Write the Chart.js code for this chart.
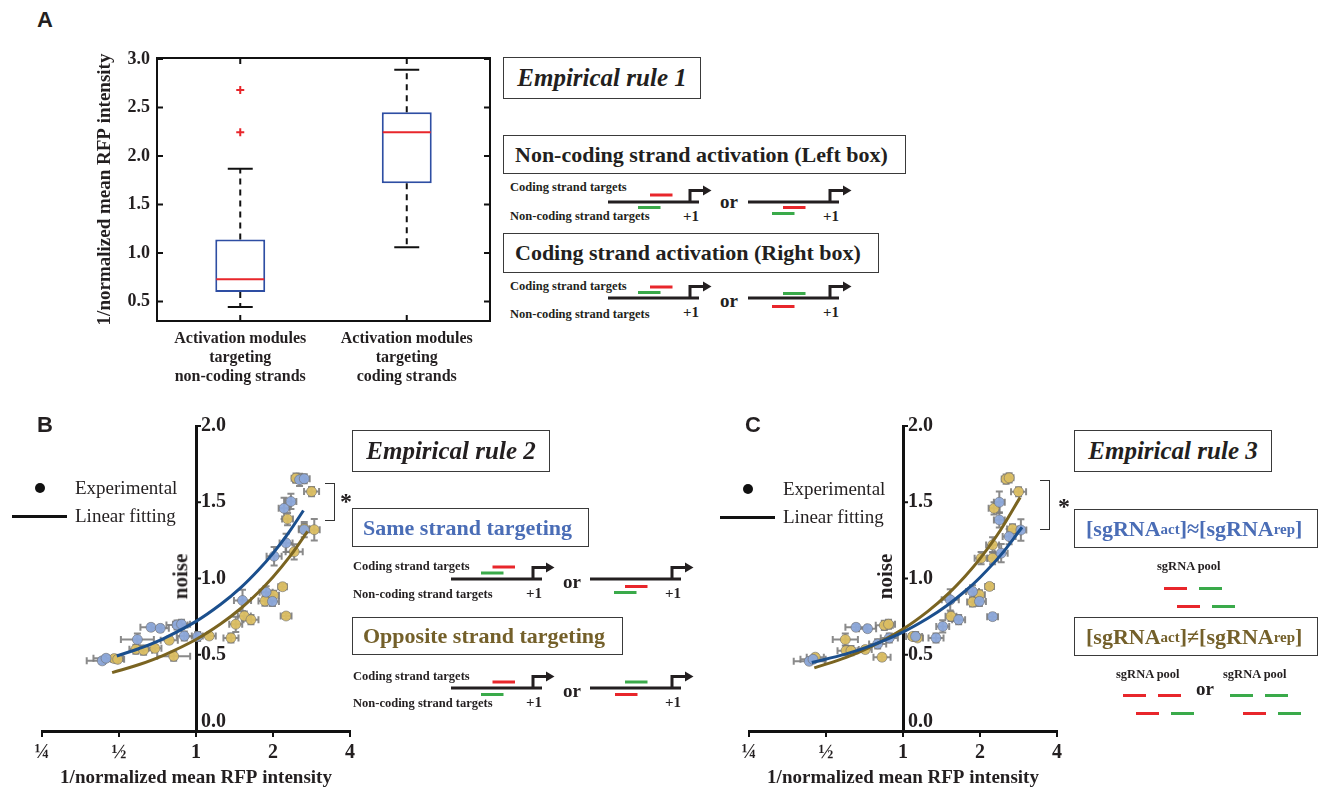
<!DOCTYPE html>
<html>
<head>
<meta charset="utf-8">
<script src="https://cdn.jsdelivr.net/npm/chart.js@4.4.0/dist/chart.umd.min.js"></script>
<style>
  body { margin:0; width:1318px; height:789px; position:relative; overflow:hidden; background:#fff;
         font-family:"Liberation Serif","Times New Roman",serif; color:#231f20; }
  canvas { position:absolute; }
  .bx { position:absolute; border:1.5px solid #3a3a3a; box-sizing:border-box; display:flex; align-items:center;
        white-space:nowrap; font-weight:bold; }
  .t { position:absolute; white-space:nowrap; font-weight:bold; line-height:1; }
  .pl { position:absolute; font:bold 22px "Liberation Sans",Arial,sans-serif; }
  sub { font-size:15px; vertical-align:-6px; line-height:0; }
</style>
</head>
<body>
<canvas id="chartA" width="410" height="400" style="left:90px;top:0px"></canvas>
<canvas id="chartB" width="360" height="379" style="left:0px;top:410px"></canvas>
<canvas id="chartC" width="360" height="379" style="left:707px;top:410px"></canvas>

<script>
// ---- panel A : box plot ----
const aLabels = [['Activation modules', 'targeting', 'non-coding strands'],
                 ['Activation modules', 'targeting', 'coding strands']];
const aQ1   = [0.60, 1.72];
const aQ3   = [1.14, 2.45];
const aMed  = [0.73, 2.245];
const aLow  = [0.445, 1.06];
const aHigh = [1.87, 2.89];
const aOutX = [0, 0];
const aOutY = [2.68, 2.245];
const aTicks = [0.5, 1.0, 1.5, 2.0, 2.5, 3.0];

// ---- panels B and C : noise vs 1/normalized mean RFP ----
const xTicksLog = [0.25, 0.5, 1, 2, 4];
const xTickText = ['¼', '½', '1', '2', '4'];
const yTicksNoise = [0, 0.5, 1.0, 1.5, 2.0];

// B, same strand (blue)
const bBlueX  = [0.43, 0.445, 0.59, 0.667, 0.725, 0.843, 0.878, 0.90, 1.015, 1.52, 1.88, 1.99, 2.02, 2.25, 2.21, 2.35, 2.54, 2.65, 2.65];
const bBlueY  = [0.46, 0.477, 0.60, 0.68, 0.673, 0.695, 0.70, 0.623, 0.62, 0.856, 0.91, 0.85, 1.146, 1.233, 1.46, 1.505, 1.647, 1.654, 1.32];
const bBlueXe = [1.15, 1.12, 1.16, 1.10, 1.08, 1.10, 1.08, 1.07, 1.10, 1.08, 1.06, 1.06, 1.07, 1.06, 1.05, 1.05, 1.06, 1.05, 1.05];
const bBlueYe = [0.02, 0.02, 0.04, 0.02, 0.02, 0.03, 0.03, 0.03, 0.03, 0.07, 0.04, 0.03, 0.06, 0.06, 0.07, 0.05, 0.04, 0.03, 0.05];
// B, opposite strand (gold)
const bGoldX  = [0.479, 0.494, 0.582, 0.624, 0.691, 0.786, 0.818, 1.127, 1.37, 1.43, 1.545, 1.64, 1.86, 2.01, 2.18, 2.25, 2.42, 2.28, 2.46, 2.83, 2.65, 2.90];
const bGoldY  = [0.475, 0.47, 0.536, 0.53, 0.542, 0.595, 0.49, 0.623, 0.61, 0.70, 0.754, 0.73, 0.852, 0.89, 0.946, 0.754, 1.175, 1.39, 1.658, 1.57, 1.327, 1.32];
const bGoldXe = [1.08, 1.06, 1.06, 1.08, 1.06, 1.08, 1.16, 1.06, 1.07, 1.06, 1.06, 1.07, 1.06, 1.05, 1.04, 1.05, 1.08, 1.05, 1.04, 1.07, 1.05, 1.05];
const bGoldYe = [0.02, 0.02, 0.03, 0.03, 0.02, 0.02, 0.03, 0.02, 0.03, 0.05, 0.03, 0.03, 0.03, 0.03, 0.02, 0.02, 0.05, 0.04, 0.03, 0.03, 0.03, 0.07];
// B, fitted curves
const bFitBlueX = [0.49, 0.6, 0.75, 1, 1.25, 1.5, 1.75, 2, 2.3, 2.63];
const bFitBlueY = [0.492, 0.541, 0.608, 0.719, 0.831, 0.942, 1.054, 1.165, 1.299, 1.446];
const bFitGoldX = [0.47, 0.6, 0.75, 1, 1.25, 1.5, 1.75, 2, 2.3, 2.73];
const bFitGoldY = [0.383, 0.436, 0.498, 0.60, 0.703, 0.805, 0.908, 1.01, 1.133, 1.309];

// C, equal sgRNA amounts (blue)
const cBlueX  = [0.43, 0.445, 0.655, 0.727, 0.796, 0.884, 1.12, 1.346, 1.43, 1.53, 1.65, 1.87, 1.99, 2.24, 2.42, 2.38, 2.38, 2.60, 2.89];
const cBlueY  = [0.457, 0.47, 0.68, 0.671, 0.571, 0.61, 0.62, 0.61, 0.686, 0.86, 0.73, 0.915, 0.85, 0.75, 1.166, 1.384, 1.50, 1.275, 1.318];
const cBlueXe = [1.15, 1.12, 1.10, 1.08, 1.08, 1.08, 1.06, 1.07, 1.06, 1.08, 1.06, 1.06, 1.06, 1.05, 1.06, 1.05, 1.05, 1.06, 1.05];
const cBlueYe = [0.02, 0.02, 0.02, 0.02, 0.03, 0.03, 0.03, 0.03, 0.04, 0.07, 0.03, 0.04, 0.03, 0.02, 0.06, 0.05, 0.07, 0.05, 0.07];
// C, unequal sgRNA amounts (gold)
const cGoldX  = [0.454, 0.595, 0.599, 0.626, 0.712, 0.828, 0.845, 0.878, 1.09, 1.14, 1.54, 1.87, 1.99, 2.18, 2.02, 2.24, 2.24, 2.27, 2.53, 2.60, 2.83, 2.68];
const cGoldY  = [0.484, 0.60, 0.527, 0.527, 0.534, 0.484, 0.693, 0.70, 0.62, 0.61, 0.752, 0.846, 0.893, 0.948, 1.133, 1.133, 1.22, 1.46, 1.652, 1.66, 1.569, 1.325];
const cGoldXe = [1.08, 1.12, 1.08, 1.06, 1.06, 1.08, 1.08, 1.06, 1.06, 1.05, 1.05, 1.05, 1.05, 1.04, 1.06, 1.05, 1.06, 1.05, 1.04, 1.04, 1.07, 1.05];
const cGoldYe = [0.02, 0.04, 0.03, 0.03, 0.02, 0.02, 0.03, 0.03, 0.02, 0.02, 0.03, 0.03, 0.03, 0.02, 0.04, 0.04, 0.05, 0.04, 0.03, 0.03, 0.03, 0.03];
// C, fitted curves
const cFitBlueX = [0.44, 0.6, 0.75, 1, 1.25, 1.5, 1.75, 2, 2.4, 2.92];
const cFitBlueY = [0.449, 0.506, 0.56, 0.649, 0.739, 0.828, 0.918, 1.007, 1.15, 1.336];
const cFitGoldX = [0.45, 0.6, 0.75, 1, 1.25, 1.5, 1.75, 2, 2.4, 2.87];
const cFitGoldY = [0.414, 0.483, 0.553, 0.668, 0.784, 0.899, 1.015, 1.13, 1.315, 1.532];

const F = '"Liberation Serif", "Times New Roman", serif';
const INK = '#231f20';
Chart.defaults.font.family = F;
Chart.defaults.color = INK;

// whiskers, medians, frame and inward ticks for the box plot
const boxPlugin = {
  id: 'boxes',
  afterDatasetsDraw(chart) {
    const {ctx, scales: {x, y}} = chart;
    const meta = chart.getDatasetMeta(0);
    ctx.save();
    aMed.forEach((m, i) => {
      const cx = meta.data[i].x;
      const hw = meta.data[i].width / 2;
      ctx.strokeStyle = '#111';
      ctx.lineWidth = 2;
      ctx.setLineDash([6, 5]);
      ctx.beginPath();
      ctx.moveTo(cx, y.getPixelForValue(aQ3[i])); ctx.lineTo(cx, y.getPixelForValue(aHigh[i]));
      ctx.moveTo(cx, y.getPixelForValue(aQ1[i])); ctx.lineTo(cx, y.getPixelForValue(aLow[i]));
      ctx.stroke();
      ctx.setLineDash([]);
      ctx.beginPath();
      ctx.moveTo(cx - hw / 2, y.getPixelForValue(aHigh[i])); ctx.lineTo(cx + hw / 2, y.getPixelForValue(aHigh[i]));
      ctx.moveTo(cx - hw / 2, y.getPixelForValue(aLow[i])); ctx.lineTo(cx + hw / 2, y.getPixelForValue(aLow[i]));
      ctx.stroke();
      ctx.strokeStyle = '#e8262b';
      ctx.beginPath();
      ctx.moveTo(cx - hw + 1, y.getPixelForValue(m)); ctx.lineTo(cx + hw - 1, y.getPixelForValue(m));
      ctx.stroke();
    });
    ctx.restore();
  },
  afterDraw(chart) {
    const {ctx, chartArea: a, scales: {x, y}} = chart;
    ctx.save();
    ctx.strokeStyle = '#111';
    ctx.lineWidth = 2;
    ctx.strokeRect(a.left, a.top, a.right - a.left, a.bottom - a.top);
    ctx.beginPath();
    y.ticks.forEach(t => {
      const py = y.getPixelForValue(t.value);
      ctx.moveTo(a.left, py); ctx.lineTo(a.left + 6, py);
      ctx.moveTo(a.right, py); ctx.lineTo(a.right - 6, py);
    });
    aLabels.forEach((l, i) => {
      const px = x.getPixelForValue(i);
      ctx.moveTo(px, a.top); ctx.lineTo(px, a.top + 6);
      ctx.moveTo(px, a.bottom); ctx.lineTo(px, a.bottom - 6);
    });
    ctx.stroke();
    ctx.restore();
  }
};

new Chart(document.getElementById('chartA'), {
  type: 'bar',
  data: {
    labels: aLabels,
    datasets: [{
      data: aQ1.map((q, i) => [q, aQ3[i]]),
      backgroundColor: '#fff',
      borderColor: '#2e4ea3',
      borderWidth: 2,
      borderSkipped: false,
      categoryPercentage: 1,
      barPercentage: 0.3
    }, {
      type: 'line',
      showLine: false,
      data: aOutX.map((v, i) => ({x: aLabels[v], y: aOutY[i]})),
      pointStyle: 'cross',
      pointRadius: 4,
      borderColor: '#e8262b',
      borderWidth: 2
    }]
  },
  options: {
    responsive: false,
    animation: false,
    layout: {padding: {top: 58, right: 10, left: 0, bottom: 0}},
    plugins: {legend: {display: false}, tooltip: {enabled: false}},
    scales: {
      x: {
        grid: {display: false, drawTicks: false},
        border: {display: false},
        ticks: {color: INK, font: {size: 16, weight: 'bold', lineHeight: 1.2}, padding: 8, maxRotation: 0},
        afterFit(s) { s.height = 79; }
      },
      y: {
        min: 0.3, max: 3.01,
        afterBuildTicks(s) { s.ticks = aTicks.map(v => ({value: v})); },
        grid: {display: false, drawTicks: false},
        border: {display: false},
        ticks: {color: INK, font: {size: 18, weight: 'bold'}, padding: 7, callback: v => v.toFixed(1)},
        title: {display: true, text: '1/normalized mean RFP intensity', color: INK,
                font: {size: 19, weight: 'bold'}, padding: {top: 4, bottom: 0}},
        afterFit(s) { s.width = 67; }
      }
    }
  },
  plugins: [boxPlugin]
});

// error bars drawn through the chart scales
const errPlugin = {
  id: 'errbars',
  beforeDatasetsDraw(chart) {
    const {ctx, scales: {x, y}} = chart;
    ctx.save();
    ctx.strokeStyle = 'rgba(125,125,125,0.9)';
    ctx.lineWidth = 2;
    chart.data.datasets.forEach(d => {
      if (!d.xErr) return;
      d.data.forEach((p, i) => {
        const px = x.getPixelForValue(p.x), py = y.getPixelForValue(p.y);
        const xl = x.getPixelForValue(p.x / d.xErr[i]), xr = x.getPixelForValue(p.x * d.xErr[i]);
        const yt = y.getPixelForValue(p.y + d.yErr[i]), yb = y.getPixelForValue(p.y - d.yErr[i]);
        ctx.beginPath();
        ctx.moveTo(xl, py); ctx.lineTo(xr, py);
        ctx.moveTo(xl, py - 3.5); ctx.lineTo(xl, py + 3.5);
        ctx.moveTo(xr, py - 3.5); ctx.lineTo(xr, py + 3.5);
        ctx.moveTo(px, yt); ctx.lineTo(px, yb);
        ctx.moveTo(px - 3.5, yt); ctx.lineTo(px + 3.5, yt);
        ctx.moveTo(px - 3.5, yb); ctx.lineTo(px + 3.5, yb);
        ctx.stroke();
      });
    });
    ctx.restore();
  }
};

// noise axis labels sit to the right of the axis line at x = 1
const noiseAxisPlugin = {
  id: 'noiseAxis',
  afterDraw(chart) {
    const {ctx, scales: {x, y}} = chart;
    const px = x.getPixelForValue(1);
    ctx.save();
    ctx.strokeStyle = '#111';
    ctx.lineWidth = 2;
    ctx.fillStyle = INK;
    ctx.font = 'bold 20px ' + F;
    ctx.textAlign = 'left';
    ctx.textBaseline = 'middle';
    yTicksNoise.forEach(v => {
      const py = y.getPixelForValue(v);
      ctx.beginPath(); ctx.moveTo(px, py); ctx.lineTo(px + 5, py); ctx.stroke();
      ctx.fillText(v.toFixed(1), px + 5, v === 0 ? py - 9 : py);
    });
    ctx.restore();
  }
};

function pts(xs, ys) { return xs.map((v, i) => ({x: v, y: ys[i]})); }

function noiseChart(id, blue, gold) {
  new Chart(document.getElementById(id), {
    type: 'scatter',
    data: {
      datasets: [
        {data: pts(blue.fx, blue.fy), showLine: true, borderColor: '#1b4f8d', borderWidth: 3, pointRadius: 0, tension: 0.4, order: 0},
        {data: pts(gold.fx, gold.fy), showLine: true, borderColor: '#7a6421', borderWidth: 3, pointRadius: 0, tension: 0.4, order: 0},
        {data: pts(blue.x, blue.y), xErr: blue.xe, yErr: blue.ye, pointRadius: 5,
         backgroundColor: 'rgba(140,168,218,0.95)', borderColor: 'rgba(110,110,110,0.6)', borderWidth: 1, order: 1},
        {data: pts(gold.x, gold.y), xErr: gold.xe, yErr: gold.ye, pointRadius: 5,
         backgroundColor: 'rgba(219,190,98,0.95)', borderColor: 'rgba(110,110,110,0.6)', borderWidth: 1, order: 1}
      ]
    },
    options: {
      responsive: false,
      animation: false,
      layout: {padding: {top: 16, right: 10, left: 42, bottom: 0}},
      plugins: {legend: {display: false}, tooltip: {enabled: false}},
      scales: {
        x: {
          type: 'logarithmic', min: 0.25, max: 4,
          afterBuildTicks(s) { s.ticks = xTicksLog.map(v => ({value: v})); },
          grid: {drawOnChartArea: false, drawTicks: true, tickLength: 6, color: '#111', lineWidth: 2},
          border: {display: true, color: '#111', width: 3},
          ticks: {color: INK, font: {size: 20, weight: 'bold'}, padding: 4, maxRotation: 0,
                  callback: (v, i) => xTickText[i]},
          title: {display: true, text: '1/normalized mean RFP intensity', color: INK,
                  font: {size: 19, weight: 'bold'}, padding: {top: 0, bottom: 0}},
          afterFit(s) { s.height = 58; }
        },
        y: {
          position: {x: 1},
          min: 0, max: 2,
          afterBuildTicks(s) { s.ticks = yTicksNoise.map(v => ({value: v})); },
          grid: {drawOnChartArea: false, drawTicks: false},
          border: {display: true, color: '#111', width: 3},
          ticks: {display: false},
          afterFit(s) { s.width = 0; }
        }
      }
    },
    plugins: [errPlugin, noiseAxisPlugin]
  });
}

noiseChart('chartB',
  {x: bBlueX, y: bBlueY, xe: bBlueXe, ye: bBlueYe, fx: bFitBlueX, fy: bFitBlueY},
  {x: bGoldX, y: bGoldY, xe: bGoldXe, ye: bGoldYe, fx: bFitGoldX, fy: bFitGoldY});
noiseChart('chartC',
  {x: cBlueX, y: cBlueY, xe: cBlueXe, ye: cBlueYe, fx: cFitBlueX, fy: cFitBlueY},
  {x: cGoldX, y: cGoldY, xe: cGoldXe, ye: cGoldYe, fx: cFitGoldX, fy: cFitGoldY});

// ---- annotations (text boxes, legends, strand sketches) ----
function put(html, css, cls) {
  const d = document.createElement('div');
  if (cls) d.className = cls;
  d.innerHTML = html;
  d.style.cssText += css;
  document.body.appendChild(d);
  return d;
}
const RED = '#e8262b', GREEN = '#3aaa4a', BLUE_T = '#4a6db6', OLIVE_T = '#74602a';

function strand(x0, y0, bars) {
  const r = bars.map(b => `<rect x="${b[0] + 2}" y="${20 + b[1] - 1.5}" width="22.5" height="3" fill="${b[2]}"/>`).join('');
  put(`<svg width="112" height="40" style="overflow:visible">
        <line x1="2" y1="20" x2="93" y2="20" stroke="${INK}" stroke-width="3"/>
        <path d="M84 21 V8.5 H98" fill="none" stroke="${INK}" stroke-width="3"/>
        <path d="M97 3.5 L105.5 8.5 L97 13.5 Z" fill="${INK}"/>${r}</svg>`,
      `position:absolute;left:${x0 - 2}px;top:${y0 - 20}px;width:112px;height:40px;`);
  put('+1', `left:${x0 + 75}px;top:${y0 + 7}px;font-size:15px;`, 't');
}
function targets(x, yc, yn) {
  put('Coding strand targets', `left:${x}px;top:${yc - 7}px;font-size:12.5px;`, 't');
  put('Non-coding strand targets', `left:${x}px;top:${yn - 7}px;font-size:12.5px;`, 't');
}
function orText(x, y) { put('or', `left:${x - 9}px;top:${y - 11}px;font-size:19px;`, 't'); }
function ruleBox(text, l, t, w, h, css) {
  put(text, `left:${l}px;top:${t}px;width:${w}px;height:${h}px;` + css, 'bx');
}
function legend(dx, ly) {
  put('', `position:absolute;left:${dx - 5}px;top:${ly - 5}px;width:10px;height:10px;border-radius:50%;background:#111;`);
  put('Experimental', `left:${dx + 35}px;top:${ly - 10}px;font-size:19px;font-weight:normal;`, 't');
  put('', `position:absolute;left:${dx - 28}px;top:${ly + 26.5}px;width:55px;height:3px;background:#111;`);
  put('Linear fitting', `left:${dx + 35}px;top:${ly + 18}px;font-size:19px;font-weight:normal;`, 't');
}
function bracket(l, t, h, sx, sy) {
  put('', `position:absolute;left:${l}px;top:${t}px;width:10px;height:${h}px;border:1.5px solid #333;border-left:none;box-sizing:border-box;`);
  put('*', `left:${sx}px;top:${sy}px;font-size:24px;`, 't');
}

// panel A
put('A', 'left:37px;top:7px;', 'pl');
ruleBox('Empirical rule 1', 503, 57, 198, 42, 'justify-content:center;font-style:italic;font-size:25px;');
ruleBox('Non-coding strand activation (Left box)', 503, 135, 403, 39, 'padding-left:11px;font-size:22px;');
targets(510, 188, 217);
strand(608, 202, [[42, -7, RED], [30, 5.5, GREEN]]);
orText(729, 203);
strand(748, 202, [[35, 5.5, RED], [24, 11.5, GREEN]]);
ruleBox('Coding strand activation (Right box)', 503, 233, 376, 40, 'padding-left:11px;font-size:22px;');
targets(510, 287, 315);
strand(608, 298, [[42, -11, RED], [30, -5.5, GREEN]]);
orText(729, 302);
strand(748, 298, [[35, -4.5, GREEN], [24, 8.5, RED]]);

// panel B
put('B', 'left:37px;top:412px;', 'pl');
legend(40, 488);
put('noise', 'left:158px;top:566px;font-size:21px;transform:rotate(-90deg);transform-origin:center;', 't');
ruleBox('Empirical rule 2', 352, 430, 198, 42, 'justify-content:center;font-style:italic;font-size:25px;');
bracket(325, 483, 38, 340, 489);
ruleBox('Same strand targeting', 352, 508, 237, 39, `padding-left:10px;font-size:22px;color:${BLUE_T};`);
targets(353, 567, 595);
strand(451, 579, [[41.5, -12, RED], [30, -6, GREEN]]);
orText(572, 583);
strand(590, 579, [[35, 7.5, RED], [24, 13.5, GREEN]]);
ruleBox('Opposite strand targeting', 352, 617, 271, 38, `padding-left:10px;font-size:22px;color:${OLIVE_T};`);
targets(353, 677, 704);
strand(451, 688, [[41.5, -6, RED], [30, 6.5, GREEN]]);
orText(572, 692);
strand(590, 688, [[35, -6, GREEN], [25, 6.5, RED]]);

// panel C
put('C', 'left:745px;top:412px;', 'pl');
legend(748, 489);
put('noise', 'left:863px;top:566px;font-size:21px;transform:rotate(-90deg);transform-origin:center;', 't');
ruleBox('Empirical rule 3', 1074, 430, 198, 42, 'justify-content:center;font-style:italic;font-size:25px;');
bracket(1040, 480, 50, 1058, 494);
ruleBox('[sgRNA<sub>act</sub>]≈[sgRNA<sub>rep</sub>]', 1074, 509, 244, 39, `padding-left:11px;font-size:22px;color:${BLUE_T};`);
put('sgRNA pool', 'left:1157px;top:560px;font-size:12.5px;', 't');
function bar(x, y, c) { put('', `position:absolute;left:${x}px;top:${y - 1.5}px;width:23px;height:3px;background:${c};`); }
bar(1164, 588, RED); bar(1199, 588, GREEN); bar(1177, 606, RED); bar(1212, 606, GREEN);
ruleBox('[sgRNA<sub>act</sub>]≠[sgRNA<sub>rep</sub>]', 1074, 617, 244, 39, `padding-left:11px;font-size:22px;color:${OLIVE_T};`);
put('sgRNA pool', 'left:1116px;top:668px;font-size:12.5px;', 't');
put('sgRNA pool', 'left:1223px;top:668px;font-size:12.5px;', 't');
orText(1205, 690);
bar(1123, 695, RED); bar(1158, 695, RED); bar(1136, 713, RED); bar(1171, 713, GREEN);
bar(1230, 695, GREEN); bar(1265, 695, GREEN); bar(1243, 713, RED); bar(1278, 713, GREEN);
</script>
</body>
</html>
